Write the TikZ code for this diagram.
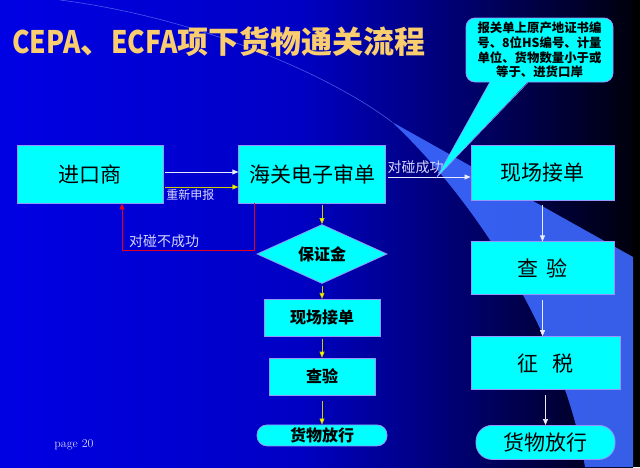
\documentclass[tikz,border=0pt]{standalone}
\usepackage{fontspec}
\usepackage{tikz}
\usetikzlibrary{arrows.meta, positioning, shapes.geometric, calc}
\newfontfamily\cjk{Noto Sans CJK SC}
\definecolor{bgA}{RGB}{0,0,228}
\definecolor{bgB}{RGB}{0,0,196}
\definecolor{bgC}{RGB}{0,0,100}
\definecolor{bgD}{RGB}{0,0,12}
\definecolor{beamblue}{RGB}{60,105,255}
\definecolor{boxfill}{RGB}{0,255,255}
\definecolor{boxline}{RGB}{150,150,255}
\definecolor{tagcol}{RGB}{215,215,255}
\definecolor{titlecol}{RGB}{250,205,110}
\definecolor{okcol}{RGB}{235,235,255}
\definecolor{retrycol}{RGB}{255,255,0}
\definecolor{failcol}{RGB}{230,0,30}

\begin{document}
\begin{tikzpicture}[x=1pt, y=-1pt]
  \tikzset{>={Triangle[length=6pt,width=5pt]}, node distance=20pt,
    box/.style={draw=boxline, line width=0.8pt, fill=boxfill, inner sep=0pt,
      font=\cjk\fontsize{21}{24}\selectfont},
    mbox/.style={box, font=\cjk\bfseries\fontsize{16}{18}\selectfont},
    pill/.style={box, rounded corners=#1},
    note/.style={draw=boxline, line width=0.8pt, fill=boxfill, rounded corners=9pt,
      minimum width=147pt, minimum height=64pt, inner sep=0pt, align=center,
      font=\cjk\bfseries\fontsize{12.4}{14.6}\selectfont},
    tag/.style={text=tagcol, inner sep=1pt, font=\cjk\fontsize{14}{16}\selectfont},
    okline/.style={draw=okcol, line width=0.7pt, ->, shorten <=2pt},
    retryline/.style={draw=retrycol!80!black, line width=0.7pt, -{Triangle[length=6pt,width=5pt,fill=retrycol]}, shorten <=2pt},
    failline/.style={draw=failcol, line width=0.8pt, ->},
    beam/.style={fill=beamblue, opacity=0.9},
    beamline/.style={draw=beamblue!70!white, line width=0.6pt, opacity=0.6},
    titletext/.style={text=titlecol, inner sep=0pt, font=\cjk\bfseries\fontsize{31}{34}\selectfont}
  }
  \useasboundingbox (0,0) rectangle (640,467);

  % background
  \shade[left color=bgA, right color=bgB] (0,0) rectangle (301,467);
  \shade[left color=bgB, right color=bgC] (300,0) rectangle (481,467);
  \shade[left color=bgC, right color=bgD] (480,0) rectangle (633,467);
  \fill[black] (632,0) rectangle (640,467);
  \fill[beam] (392,122) -- (633,257) -- (633,467) -- (585,467)
    .. controls (562,330) and (470,195) .. cycle;
  \draw[beamline] (60,0) .. controls (200,18) and (330,75) .. (392,122);

  % title
  \node[titletext, anchor=west] (title) at (12,42)
    {\scalebox{0.85}[1]{CEPA}、\scalebox{0.85}[1]{ECFA}项下货物通关流程};

  % first row
  \node[box, minimum width=146pt, minimum height=58pt] (imp) at (90,174) {进口商};
  \node[box, minimum width=147pt, minimum height=58pt, right=75pt of imp] (audit) {海关电子审单};
  \node[box, minimum width=143pt, minimum height=55pt] (rcv) at (542.5,172.5) {现场接单};

  % right column
  \node[box, minimum width=143pt, minimum height=53pt, below=41pt of rcv] (chk) {查\hspace{9pt}验};
  \node[box, minimum width=149pt, minimum height=53pt, below right=41pt and 0pt of chk.south west] (tax) {征\hspace{14pt}税};
  \node[pill=16pt, minimum width=139pt, minimum height=34pt, below=35pt of tax] (rel) {货物放行};

  % middle column
  \node[diamond, draw=boxline, line width=0.8pt, fill=boxfill, inner sep=0pt, aspect=2.2,
    minimum width=130pt, minimum height=59pt,
    font=\cjk\bfseries\fontsize{16}{18}\selectfont] (guar) at (322,254) {保证金};
  \node[mbox, minimum width=116pt, minimum height=37pt, below=15pt of guar] (mrcv) {现场接单};
  \node[mbox, minimum width=106pt, minimum height=37pt, below=21pt of mrcv] (mchk) {查验};
  \node[pill=10pt, font=\cjk\bfseries\fontsize{16}{18}\selectfont,
    minimum width=130pt, minimum height=21pt, below=29pt of mchk] (mrel) {货物放行};

  % connectors
  \draw[okline] ([yshift=2pt]imp.east) -- ([yshift=2pt]audit.west);
  \draw[retryline] ([yshift=-13pt]imp.east) -- ([yshift=-13pt]audit.west)
    node[tag, below=1pt, pos=0.36, font=\cjk\fontsize{12}{14}\selectfont] (retry) {重新申报};
  \draw[failline] ([xshift=-57.5pt]audit.south) -- ++(0,47) -| ([xshift=32pt]imp.south);
  \node[tag] (fail) at (164,241) {对碰不成功};
  \draw[okline] ([yshift=-3pt]audit.east) -- ([yshift=-4.5pt]rcv.west)
    node[tag, above=2pt, pos=0.35] (ok) {对碰成功};

  \draw[retryline] (guar.north |- audit.south) -- (guar.north);
  \draw[retryline] (guar.south) -- (mrcv.north);
  \draw[retryline] (mrcv.south) -- (mchk.north);
  \draw[retryline] ([yshift=-3pt]mchk.south) -- (mrel.north);

  \draw[okline] ([yshift=-3pt]rcv.south) -- (chk.north);
  \draw[okline] ([yshift=-3pt]chk.south) -- (chk.south |- tax.north);
  \draw[okline] ([yshift=-3pt]tax.south) -- (rel.north);

  % callout
  \node[note] (note) at (539.5,50)
    {报关单上原产地证书编\\号、8位HS编号、计量\\单位、货物数量小于或\\等于、进货口岸};
  \coordinate (tip) at (437,177);
  \fill[boxfill] ([xshift=-49.5pt,yshift=1pt]note.south) -- (tip)
    -- ([xshift=-11.5pt,yshift=1pt]note.south) -- cycle;
  \draw[boxline, line width=0.6pt] ([xshift=-49.5pt]note.south) -- (tip)
    -- ([xshift=-11.5pt]note.south);

  % page number
  \node[text=tagcol, font=\fontsize{12}{13}\selectfont] (page) at (74,445) {page 20};
\end{tikzpicture}
\end{document}
